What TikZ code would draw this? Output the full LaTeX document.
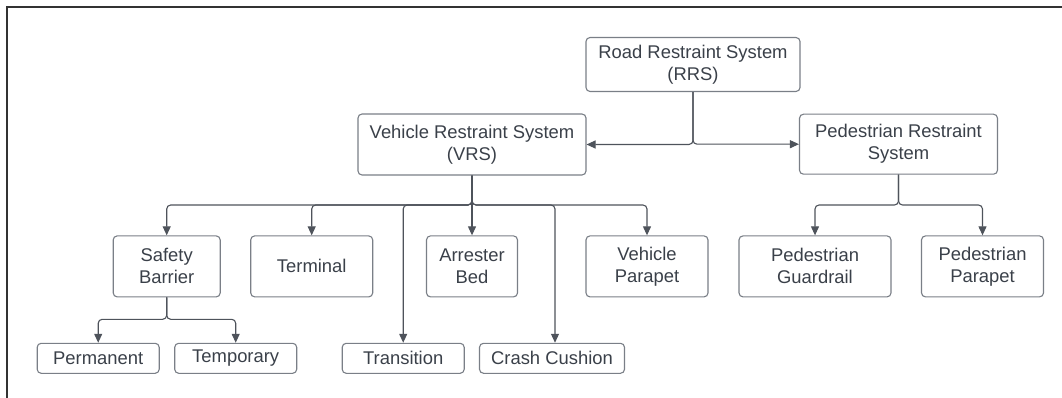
\documentclass[tikz,border=0pt]{standalone}
\usepackage{fontspec}
\setmainfont{Liberation Sans}
\usetikzlibrary{arrows.meta}
\definecolor{txt}{HTML}{3A4049}
\definecolor{edge}{HTML}{7A7F87}
\definecolor{wire}{HTML}{4E535B}
\tikzset{
  box/.style={draw=edge, line width=1.1pt, rounded corners=4pt, fill=white,
    text=txt, align=center, inner sep=0pt,
    font=\fontsize{18.4}{22}\selectfont},
  tall/.style={box, minimum height=61pt},
  flat/.style={box, minimum height=30pt},
  link/.style={draw=wire, line width=1.1pt, rounded corners=4pt,
    -{Triangle[length=9pt,width=8pt]}, color=wire},
  plain/.style={draw=wire, line width=1.1pt, rounded corners=4pt}
}
\begin{document}
\begin{tikzpicture}[x=1pt,y=-1pt]
\useasboundingbox (0,0) rectangle (1062,398);
% frame edges
\draw[line width=1.6pt, color=black!80] (7,398) -- (7,7) -- (1062,7);

% top level
\node[box, minimum width=214pt, minimum height=54pt] (rrs) at (693,64.5) {Road Restraint System\\(RRS)};
\node[tall, minimum width=228pt] (vrs) at (472,144.5) {Vehicle Restraint System\\(VRS)};
\node[tall, minimum width=198pt, minimum height=60pt] (prs) at (898.5,144.2) {Pedestrian Restraint\\System};

% second level
\node[tall, minimum width=107pt] (sb) at (166.7,266.4) {Safety\\Barrier};
\node[tall, minimum width=122pt] (term) at (311.7,266.4) {Terminal};
\node[tall, minimum width=91pt] (ab) at (472,266.4) {Arrester\\Bed};
\node[tall, minimum width=122pt] (vp) at (647,266.4) {Vehicle\\Parapet};
\node[tall, minimum width=152pt] (pg) at (815,266.4) {Pedestrian\\Guardrail};
\node[tall, minimum width=122pt] (pp) at (982.5,266.4) {Pedestrian\\Parapet};

% third level
\node[flat, minimum width=122pt] (perm) at (98.2,358.3) {Permanent};
\node[flat, minimum width=122pt] (temp) at (235.7,358.3) {Temporary};
\node[flat, minimum width=122pt] (trans) at (403.2,358.3) {Transition};
\node[flat, minimum width=145pt] (cc) at (552,358.3) {Crash Cushion};

% bus levels
\coordinate (busA) at (0,144.3);
\coordinate (busB) at (0,205);
\coordinate (busC) at (0,319.3);

% RRS branches
\draw[link] (rrs.south) |- (vrs.east);
\draw[link] (rrs.south) |- (prs.west);

% VRS branches
\foreach \t in {sb,term,ab,vp,trans} {
  \draw[link] (vrs.south) -- (vrs.south |- busB) -| (\t.north);
}
\draw[link] (vrs.south) -- (vrs.south |- busB) -| ([xshift=3pt]cc.north);

% PRS branches
\foreach \t in {pg,pp} {
  \draw[link] (prs.south) -- (prs.south |- busB) -| (\t.north);
}

% Safety barrier branches
\foreach \t in {perm,temp} {
  \draw[link] (sb.south) -- (sb.south |- busC) -| (\t.north);
}
\end{tikzpicture}
\end{document}
